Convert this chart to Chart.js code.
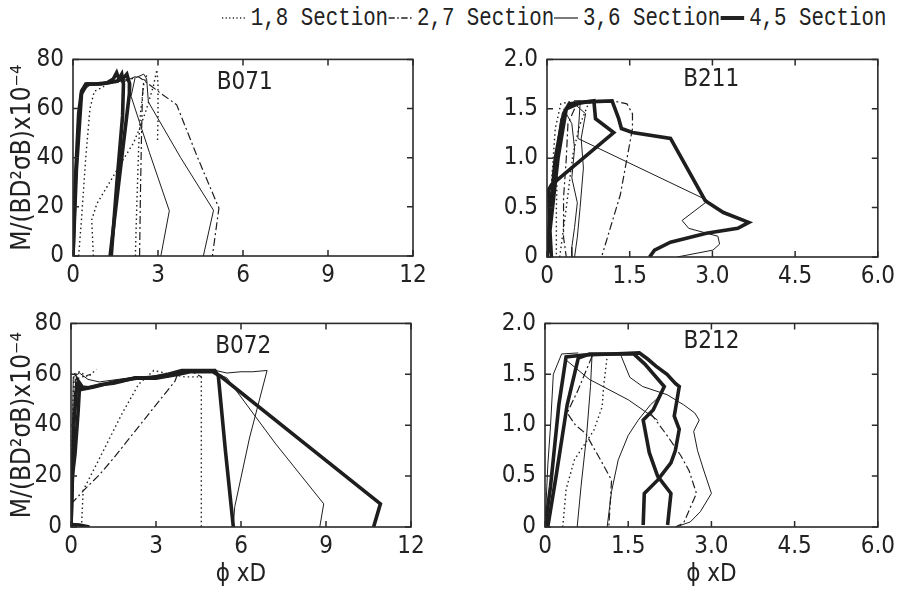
<!DOCTYPE html>
<html>
<head>
<meta charset="utf-8">
<script src="https://cdn.jsdelivr.net/npm/chart.js@4.4.0/dist/chart.umd.min.js"></script>
<style>
  body { margin:0; background:#fff; width:900px; height:589px; position:relative; overflow:hidden; }
  canvas { position:absolute; }
  #legend { position:absolute; left:222px; top:2px; height:32px; white-space:nowrap;
            font-family:'Liberation Mono', monospace; font-size:26px; color:#222;
            transform:scaleX(0.8); transform-origin:0 0; display:flex; align-items:center; }
  #legend svg { margin-right:6px; }
</style>
</head>
<body>
<div id="legend"></div>
<canvas id="c071" width="440" height="256" style="left:0;top:36px"></canvas>
<canvas id="c211" width="460" height="256" style="left:440px;top:36px"></canvas>
<canvas id="c072" width="440" height="289" style="left:0;top:300px"></canvas>
<canvas id="c212" width="460" height="289" style="left:440px;top:300px"></canvas>
<script>
// section names (legend)
var sectionNames = ['1,8 Section', '2,7 Section', '3,6 Section', '4,5 Section'];
var sectionKeys = ['s18', 's27', 's36', 's45'];

// axis ticks
var xTicksB07 = [0, 3, 6, 9, 12];
var yTicksB07 = [0, 20, 40, 60, 80];
var xTicksB21 = [0, 1.5, 3.0, 4.5, 6.0];
var yTicksB21 = [0, 0.5, 1.0, 1.5, 2.0];

// B071  [phi*D, M/(BD^2 sB)x10^-4]
var b071_s18a = [[0.2,0],[0.3,15],[0.45,40],[0.6,60],[0.75,67],[1.1,69]];
var b071_s18b = [[0.72,0],[0.66,14.7],[0.84,21.2],[1.31,30.3],[1.78,39.4],[2.13,45.9],[2.37,52.4],[2.6,60],[2.84,69.3],[2.96,75.8],[3.0,70],[3.0,55],[2.98,46]];
var b071_s18c = [[2.2,0],[2.25,20],[2.32,45],[2.38,58],[2.5,70],[2.6,73.5]];
var b071_s27a = [[0,0],[0.1,40],[0.3,68],[0.6,70],[1.2,70],[1.8,71],[2.3,73],[2.6,70.6],[2.96,67.4],[3.66,61.5],[4.4,40],[5.15,19.5],[4.92,0]];
var b071_s27b = [[2.35,0],[2.38,25],[2.42,50],[2.45,65],[2.5,72]];
var b071_s36a = [[0,0],[0.1,40],[0.3,67],[0.6,69.5],[1.5,71],[2.0,72],[2.2,73],[2.05,65],[2.7,42],[3.4,18.4],[3.1,0]];
var b071_s36b = [[2.3,73],[2.5,74],[2.6,72],[2.66,62.7],[3.8,40],[4.96,18.6],[4.6,0]];
var b071_s45a = [[0,0],[0.08,30],[0.2,58],[0.3,67],[0.45,70],[0.8,70],[1.2,70.5],[1.42,72],[1.54,74.6],[1.62,72],[1.72,74],[1.78,70],[1.75,57],[1.55,30],[1.35,0]];
var b071_s45b = [[0,0],[0.12,35],[0.3,66],[0.5,70],[1.0,70],[1.5,71],[1.75,72],[1.9,74],[2.0,70],[1.99,66],[1.7,38],[1.31,0]];

// B211  [phi*D, M/(BD^2 sB)x10^-4]
var b211_s18a = [[0,0],[0.05,0.5],[0.15,1.3],[0.25,1.55],[0.4,1.57],[0.2,1.2],[0.17,0.5],[0.17,0]];
var b211_s18b = [[0.23,0],[0.35,0.5],[0.47,1.04],[0.59,1.33],[0.75,1.55],[0.85,1.58]];
var b211_s27a = [[0,0],[0.15,0.8],[0.3,1.45],[0.5,1.58],[1.2,1.58],[1.45,1.55],[1.55,1.45],[1.55,1.3],[1.33,0.63],[1.0,0.02]];
var b211_s27b = [[0.5,1.5],[0.38,1.35],[0.35,1.0],[0.3,0.6],[0.3,0.2],[0.35,0]];
var b211_s36a = [[0,0],[0.1,0.8],[0.25,1.4],[0.4,1.56],[0.6,1.55],[0.56,1.2],[2.92,0.57],[2.45,0.37],[2.57,0.29],[3.1,0.21],[3.13,0.13],[3.01,0.07],[2.36,0]];
var b211_s36b = [[0.3,1.5],[0.45,1.35],[0.5,1.1],[0.45,0.8],[0.55,0.55],[0.5,0.3],[0.45,0.1],[0.45,0]];
var b211_s36c = [[0.5,1.55],[0.7,1.45],[0.62,1.2],[0.66,0.9],[0.6,0.5],[0.55,0.2],[0.5,0]];
var b211_s45a = [[0,0],[0.05,0.4],[0.15,1.0],[0.3,1.45],[0.4,1.55],[0.7,1.57],[1.18,1.58],[1.3,1.4],[1.35,1.3],[1.55,1.26],[2.24,1.2],[2.87,0.57],[3.2,0.45],[3.66,0.35],[3.46,0.29],[2.89,0.24],[2.24,0.15],[1.95,0.07],[1.86,0]];
var b211_s45b = [[0,0],[0.1,0.5],[0.2,1.0],[0.35,1.5],[0.6,1.56],[0.85,1.58],[0.88,1.4],[1.21,1.26],[0.08,0.73],[0.03,0.68],[0.05,0.3],[0.08,0]];

// B072
var b072_s18a = [[0,0],[0.05,40],[0.1,60],[0.3,61],[0.6,59],[0.9,62]];
var b072_s18b = [[0.37,0],[0.43,14.4],[1.08,28.6],[1.79,44.3],[2.38,56],[2.92,61.5],[3.5,60],[4.0,59],[4.6,59],[4.6,0]];
var b072_s27a = [[0,0],[0.05,30],[0.15,58],[0.4,59],[0.7,60]];
var b072_s27b = [[0,9],[0.5,15],[1.0,20.5],[1.5,27],[2.0,34],[2.5,41],[3.0,48],[3.67,57.3],[3.79,61],[4.2,61.5],[4.6,59]];
var b072_s36a = [[0,0],[0.08,59],[0.3,60.5],[0.6,58],[1.0,57],[2.0,58.5],[3.0,59.5],[4.0,61],[5.0,61],[5.5,58.6],[7.2,33],[8.92,9.1],[8.78,0]];
var b072_s36b = [[5.1,61.5],[5.5,60.5],[6.0,61],[6.4,61],[6.92,61.5],[6.3,35],[5.78,8],[5.72,0]];
var b072_s45a = [[0,0],[0.05,20],[0.14,28.6],[0.25,45],[0.3,55],[0.26,57.3],[0.4,55],[0.61,54.7],[1.08,56],[1.5,56.5],[1.79,57.3],[2.26,58.6],[2.8,58.5],[3.43,60],[3.91,61.5],[4.5,61.5],[5.08,61.5],[5.2,59.3],[5.45,30],[5.73,0]];
var b072_s45b = [[0,0],[0.1,40],[0.2,56],[0.35,54],[0.8,55],[1.5,57],[2.3,58.5],[3.0,58.5],[3.8,60],[4.2,61],[5.0,61],[5.27,59.3],[8.0,35],[10.92,9.1],[10.68,0]];
var b072_s45c = [[0,1],[0.3,0.8],[0.65,0]];

// B212
var b212_s18a = [[0.32,0],[0.38,0.37],[0.53,0.66],[0.88,0.95],[1.03,1.18],[1.06,1.4],[1.12,1.67]];
var b212_s27a = [[0.85,1.68],[0.6,1.35],[0.4,1.12],[0.55,1.0],[0.73,0.92],[1.0,0.66],[1.2,0.46],[1.15,0]];
var b212_s27b = [[1.9,1.12],[2.2,0.9],[2.45,0.7],[2.6,0.55],[2.73,0.33],[2.5,0.04],[2.35,0]];
var b212_s36a = [[0,0],[0.05,0.6],[0.1,1.0],[0.15,1.5],[0.3,1.7],[0.6,1.71]];
var b212_s36b = [[0.85,1.71],[0.82,1.38],[0.75,0.9],[0.65,0.4],[0.58,0]];
var b212_s36c = [[1.12,0],[1.2,0.35],[1.32,0.66],[1.5,0.9],[1.68,1.05],[1.9,1.2],[2.1,1.3]];
var b212_s36d = [[0.38,1.64],[0.8,1.45],[1.5,1.25],[2.03,1.05]];
var b212_s36e = [[1.35,1.71],[1.53,1.47],[1.76,1.38],[2.2,1.3],[2.5,1.2],[2.7,1.12],[2.78,1.05],[2.68,0.94],[2.75,0.75],[2.86,0.56],[3.0,0.33],[2.8,0.15],[2.62,0.05],[2.36,0]];
var b212_s45a = [[0,0],[0.1,0.4],[0.25,1.2],[0.38,1.67],[0.7,1.69],[1.2,1.7],[1.7,1.71],[1.85,1.65],[2.0,1.58],[2.2,1.5],[2.35,1.41],[2.42,1.38],[2.38,1.25],[2.33,1.09],[2.42,0.96],[2.35,0.75],[2.27,0.63],[2.03,0.46],[1.79,0.33],[1.77,0.02]];
var b212_s45b = [[0.05,0],[0.2,0.5],[0.4,1.2],[0.6,1.66],[0.8,1.7],[1.6,1.7],[1.8,1.6],[2.15,1.38],[1.95,1.15],[1.77,1.05],[1.88,0.73],[2.03,0.5],[2.27,0.33],[2.21,0.02]];

var INK = '#1e1e1e';
var styles = {
    s18: { borderDash: [1.5, 3], borderWidth: 1.4 },
    s27: { borderDash: [8, 3, 2, 3], borderWidth: 1.2 },
    s36: { borderDash: [], borderWidth: 1 },
    s45: { borderDash: [], borderWidth: 3.6 }
};
var FAM = "'Liberation Sans Narrow', 'DejaVu Sans Condensed', sans-serif";
var tickFont = { family: FAM, size: 24 };
var titleFont = { family: FAM, size: 26 };

function ds(points, kind){
    var d = { data: points.map(function(p){ return { x: p[0], y: p[1] }; }),
              showLine: true, pointRadius: 0, borderColor: INK, fill: false, tension: 0 };
    return Object.assign(d, styles[kind]);
}

// frame, inward tick marks and panel name
var framePlugin = {
    id: 'frame',
    afterDraw: function(chart, args, opts){
        var ctx = chart.ctx, a = chart.chartArea, xs = chart.scales.x, ys = chart.scales.y;
        ctx.save();
        ctx.strokeStyle = '#2a2a2a';
        ctx.lineWidth = 1.6;
        ctx.strokeRect(a.left, a.top, a.right - a.left, a.bottom - a.top);
        ctx.lineWidth = 1.5;
        ctx.beginPath();
        xs.ticks.forEach(function(t){
            var p = xs.getPixelForValue(t.value);
            ctx.moveTo(p, a.bottom); ctx.lineTo(p, a.bottom - 6);
            ctx.moveTo(p, a.top); ctx.lineTo(p, a.top + 6);
        });
        ys.ticks.forEach(function(t){
            var p = ys.getPixelForValue(t.value);
            ctx.moveTo(a.left, p); ctx.lineTo(a.left + 6, p);
            ctx.moveTo(a.right, p); ctx.lineTo(a.right - 6, p);
        });
        ctx.stroke();
        ctx.fillStyle = '#222';
        ctx.font = "24px " + FAM;
        ctx.textAlign = 'center';
        ctx.textBaseline = 'middle';
        ctx.fillText(opts.label, xs.getPixelForValue(opts.lx), ys.getPixelForValue(opts.ly));
        ctx.restore();
    }
};

function makeChart(id, cfg){
    var datasets = cfg.curves.map(function(c){ return ds(c[0], c[1]); });
    return new Chart(document.getElementById(id), {
        type: 'scatter',
        data: { datasets: datasets },
        plugins: [framePlugin],
        options: {
            responsive: false,
            animation: false,
            layout: { padding: cfg.pad },
            plugins: {
                legend: { display: false },
                tooltip: { enabled: false },
                frame: { label: cfg.label, lx: cfg.lx, ly: cfg.ly }
            },
            scales: {
                x: {
                    type: 'linear', min: cfg.xTicks[0], max: cfg.xTicks[cfg.xTicks.length - 1],
                    afterBuildTicks: function(s){ s.ticks = cfg.xTicks.map(function(v){ return { value: v }; }); },
                    afterFit: function(s){ s.height = cfg.xH; },
                    grid: { display: false, drawTicks: false },
                    border: { display: false },
                    ticks: { color: '#222', font: tickFont, padding: 5, maxRotation: 0,
                             callback: function(v){ return v === 0 ? '0' : (cfg.dec ? v.toFixed(1) : String(v)); } },
                    title: { display: !!cfg.xTitle, text: cfg.xTitle || '', color: '#222', font: tickFont, padding: { top: 3, bottom: 0 } }
                },
                y: {
                    type: 'linear', min: cfg.yTicks[0], max: cfg.yTicks[cfg.yTicks.length - 1],
                    afterBuildTicks: function(s){ s.ticks = cfg.yTicks.map(function(v){ return { value: v }; }); },
                    afterFit: function(s){ s.width = cfg.yW; },
                    grid: { display: false, drawTicks: false },
                    border: { display: false },
                    ticks: { color: '#222', font: tickFont, padding: 9,
                             callback: function(v){ return v === 0 ? '0' : (cfg.dec ? v.toFixed(1) : String(v)); } },
                    title: { display: !!cfg.yTitle, text: cfg.yTitle || '', color: '#222', font: titleFont, padding: { top: 8, bottom: 0 } }
                }
            }
        }
    });
}

// legend
var legendSvg = {
    s18: '<line x1="0" y1="9" x2="30" y2="9" stroke="#222" stroke-width="1.4" stroke-dasharray="1.5 3"/>',
    s27: '<line x1="0" y1="9" x2="30" y2="9" stroke="#222" stroke-width="1.3" stroke-dasharray="8 3 2 3"/>',
    s36: '<line x1="0" y1="9" x2="30" y2="9" stroke="#222" stroke-width="1.2"/>',
    s45: '<line x1="0" y1="9" x2="30" y2="9" stroke="#222" stroke-width="4"/>'
};
var legendHtml = '';
sectionNames.forEach(function(n, i){
    legendHtml += '<svg width="30" height="18">' + legendSvg[sectionKeys[i]] + '</svg><span>' + n + '</span>';
});
document.getElementById('legend').innerHTML = legendHtml;

var yTitle = 'M/(BD\u00B2\u03C3B)x10\u207B\u2074';

makeChart('c071', {
    curves: [[b071_s18a,'s18'],[b071_s18b,'s18'],[b071_s18c,'s18'],[b071_s27a,'s27'],[b071_s27b,'s27'],
             [b071_s36a,'s36'],[b071_s36b,'s36'],[b071_s45a,'s45'],[b071_s45b,'s45']],
    xTicks: xTicksB07, yTicks: yTicksB07, dec: false,
    pad: { top: 15, right: 27, left: 0, bottom: 0 }, yW: 73, xH: 36,
    label: 'B071', lx: 6.06, ly: 70.4, yTitle: yTitle
});
makeChart('c211', {
    curves: [[b211_s18a,'s18'],[b211_s18b,'s18'],[b211_s27a,'s27'],[b211_s27b,'s27'],
             [b211_s36a,'s36'],[b211_s36b,'s36'],[b211_s36c,'s36'],[b211_s45a,'s45'],[b211_s45b,'s45']],
    xTicks: xTicksB21, yTicks: yTicksB21, dec: true,
    pad: { top: 16, right: 15, left: 0, bottom: 0 }, yW: 107, xH: 35,
    label: 'B211', lx: 2.98, ly: 1.79
});
makeChart('c072', {
    curves: [[b072_s18a,'s18'],[b072_s18b,'s18'],[b072_s27a,'s27'],[b072_s27b,'s27'],
             [b072_s36a,'s36'],[b072_s36b,'s36'],[b072_s45a,'s45'],[b072_s45b,'s45'],[b072_s45c,'s45']],
    xTicks: xTicksB07, yTicks: yTicksB07, dec: false,
    pad: { top: 22, right: 29, left: 0, bottom: 0 }, yW: 71, xH: 62,
    label: 'B072', lx: 6.08, ly: 71, yTitle: yTitle, xTitle: '\u03D5 xD'
});
makeChart('c212', {
    curves: [[b212_s18a,'s18'],[b212_s27a,'s27'],[b212_s27b,'s27'],
             [b212_s36a,'s36'],[b212_s36b,'s36'],[b212_s36c,'s36'],[b212_s36d,'s36'],[b212_s36e,'s36'],
             [b212_s45a,'s45'],[b212_s45b,'s45']],
    xTicks: xTicksB21, yTicks: yTicksB21, dec: true,
    pad: { top: 23, right: 16, left: 0, bottom: 0 }, yW: 105, xH: 62,
    label: 'B212', lx: 3.0, ly: 1.82, xTitle: '\u03D5 xD'
});
</script>
</body>
</html>
